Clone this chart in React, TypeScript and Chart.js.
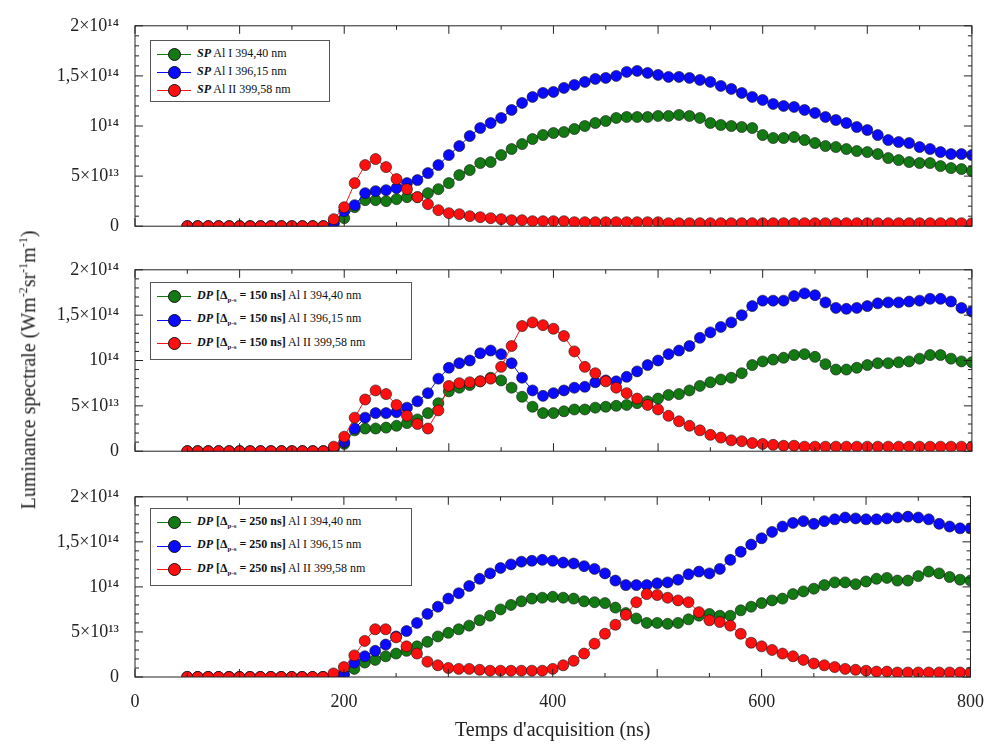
import React, { useEffect, useRef } from 'react';
import { Chart, registerables } from 'chart.js';

Chart.register(...registerables);

// acquisition times (ns)
const times = [50, 60, 70, 80, 90, 100, 110, 120, 130, 140, 150, 160, 170, 180, 190, 200, 210, 220, 230, 240, 250, 260, 270, 280, 290, 300, 310, 320, 330, 340, 350, 360, 370, 380, 390, 400, 410, 420, 430, 440, 450, 460, 470, 480, 490, 500, 510, 520, 530, 540, 550, 560, 570, 580, 590, 600, 610, 620, 630, 640, 650, 660, 670, 680, 690, 700, 710, 720, 730, 740, 750, 760, 770, 780, 790, 800];

// values in units of 1e13 W m-2 sr-1 m-1
const spGreen = [0, 0, 0, 0, 0, 0, 0, 0, 0, 0, 0, 0, 0, 0, 0.3, 0.8, 1.9, 2.6, 2.6, 2.5, 2.7, 2.9, 2.9, 3.3, 3.7, 4.3, 5.1, 5.6, 6.3, 6.4, 7.1, 7.7, 8.2, 8.7, 9.1, 9.3, 9.4, 9.7, 10.0, 10.3, 10.5, 10.8, 10.9, 10.9, 10.9, 11.0, 11.0, 11.1, 11.0, 10.8, 10.3, 10.1, 10.0, 9.9, 9.8, 9.1, 8.8, 8.8, 8.9, 8.6, 8.3, 8.0, 7.9, 7.7, 7.5, 7.4, 7.2, 6.8, 6.6, 6.4, 6.3, 6.3, 6.0, 5.8, 5.7, 5.5];
const spBlue = [0, 0, 0, 0, 0, 0, 0, 0, 0, 0, 0, 0, 0, 0, 0.3, 1.5, 2.1, 3.3, 3.5, 3.6, 3.8, 4.3, 4.6, 5.3, 6.1, 7.1, 8.0, 9.0, 9.8, 10.3, 10.8, 11.6, 12.3, 12.9, 13.3, 13.4, 13.8, 14.1, 14.4, 14.7, 14.8, 15.0, 15.4, 15.5, 15.3, 15.1, 14.9, 14.9, 14.8, 14.6, 14.4, 14.0, 13.7, 13.3, 12.9, 12.6, 12.2, 12.0, 11.9, 11.6, 11.3, 10.9, 10.6, 10.3, 9.9, 9.6, 9.1, 8.6, 8.4, 8.3, 7.9, 7.7, 7.4, 7.2, 7.2, 7.1];
const spRed = [0, 0, 0, 0, 0, 0, 0, 0, 0, 0, 0, 0, 0, 0, 0.7, 1.9, 4.3, 6.1, 6.7, 5.9, 4.7, 3.7, 2.9, 2.2, 1.6, 1.3, 1.2, 1.0, 0.9, 0.8, 0.7, 0.6, 0.6, 0.5, 0.5, 0.5, 0.5, 0.4, 0.4, 0.4, 0.4, 0.4, 0.4, 0.4, 0.4, 0.4, 0.3, 0.3, 0.3, 0.3, 0.3, 0.3, 0.3, 0.3, 0.3, 0.3, 0.3, 0.3, 0.3, 0.3, 0.3, 0.3, 0.3, 0.3, 0.3, 0.3, 0.3, 0.3, 0.3, 0.3, 0.3, 0.3, 0.3, 0.3, 0.3, 0.3];

const dp150Green = [0, 0, 0, 0, 0, 0, 0, 0, 0, 0, 0, 0, 0, 0, 0.3, 0.8, 2.3, 2.5, 2.5, 2.6, 2.8, 3.1, 3.5, 4.2, 5.3, 6.6, 7.0, 7.3, 7.7, 8.1, 7.8, 7.0, 6.0, 4.9, 4.2, 4.2, 4.4, 4.6, 4.6, 4.8, 4.9, 5.0, 5.1, 5.3, 5.5, 5.8, 6.2, 6.3, 6.7, 7.2, 7.6, 7.9, 8.1, 8.6, 9.5, 9.9, 10.1, 10.3, 10.6, 10.7, 10.4, 9.6, 9.0, 9.0, 9.2, 9.5, 9.7, 9.7, 9.8, 9.9, 10.2, 10.6, 10.6, 10.2, 9.9, 9.8];
const dp150Blue = [0, 0, 0, 0, 0, 0, 0, 0, 0, 0, 0, 0, 0, 0, 0.3, 1.0, 2.5, 3.7, 4.2, 4.2, 4.3, 4.8, 5.5, 6.4, 8.0, 9.2, 9.7, 10.0, 10.8, 11.1, 10.7, 9.7, 8.1, 6.7, 6.1, 6.4, 6.7, 7.0, 7.1, 7.6, 7.8, 7.7, 8.2, 8.8, 9.5, 10.0, 10.7, 11.1, 11.6, 12.5, 13.1, 13.7, 14.2, 15.0, 16.0, 16.6, 16.6, 16.6, 17.1, 17.4, 17.2, 16.4, 15.8, 15.7, 15.8, 16.0, 16.3, 16.4, 16.4, 16.5, 16.6, 16.8, 16.8, 16.5, 15.8, 15.4];
const dp150Red = [0, 0, 0, 0, 0, 0, 0, 0, 0, 0, 0, 0, 0, 0, 0.5, 1.6, 3.7, 5.7, 6.7, 6.3, 5.1, 3.9, 3.0, 2.5, 4.5, 7.2, 7.5, 7.6, 7.7, 8.0, 9.3, 11.6, 13.8, 14.2, 13.9, 13.5, 12.7, 11.0, 9.3, 8.6, 7.7, 7.0, 6.4, 5.8, 5.1, 4.6, 3.9, 3.3, 2.8, 2.3, 1.8, 1.5, 1.2, 1.1, 0.9, 0.8, 0.7, 0.6, 0.6, 0.5, 0.5, 0.5, 0.5, 0.5, 0.5, 0.5, 0.5, 0.5, 0.5, 0.5, 0.5, 0.5, 0.5, 0.5, 0.5, 0.5];

const dp250Green = [0, 0, 0, 0, 0, 0, 0, 0, 0, 0, 0, 0, 0, 0, 0.1, 0.3, 0.9, 1.6, 1.9, 2.3, 2.6, 2.9, 3.4, 3.9, 4.5, 4.9, 5.3, 5.7, 6.3, 6.8, 7.5, 8.0, 8.4, 8.7, 8.8, 8.9, 8.8, 8.7, 8.4, 8.3, 8.2, 7.7, 7.1, 6.5, 6.0, 6.0, 5.9, 6.0, 6.4, 6.8, 7.0, 6.8, 6.8, 7.4, 7.8, 8.2, 8.5, 8.7, 9.2, 9.5, 9.8, 10.2, 10.5, 10.5, 10.3, 10.6, 10.9, 11.0, 10.7, 10.7, 11.2, 11.7, 11.5, 11.1, 10.8, 10.7];
const dp250Blue = [0, 0, 0, 0, 0, 0, 0, 0, 0, 0, 0, 0, 0, 0, 0.1, 0.3, 1.6, 2.3, 2.9, 3.6, 4.5, 5.1, 6.0, 7.0, 7.8, 8.7, 9.3, 10.1, 10.9, 11.5, 12.1, 12.5, 12.8, 12.9, 13.0, 12.9, 12.7, 12.6, 12.3, 12.0, 11.5, 10.7, 10.2, 10.2, 10.2, 10.4, 10.5, 10.8, 11.4, 11.7, 11.5, 12.0, 13.0, 13.9, 14.7, 15.4, 16.1, 16.7, 17.1, 17.3, 17.0, 17.3, 17.5, 17.7, 17.6, 17.5, 17.5, 17.6, 17.7, 17.8, 17.7, 17.5, 17.0, 16.7, 16.5, 16.5];
const dp250Red = [0, 0, 0, 0, 0, 0, 0, 0, 0, 0, 0, 0, 0, 0, 0.4, 1.1, 2.4, 4.0, 5.3, 5.3, 4.4, 3.4, 2.6, 1.7, 1.3, 1.0, 0.9, 0.9, 0.8, 0.7, 0.7, 0.7, 0.7, 0.7, 0.7, 0.9, 1.3, 1.8, 2.6, 3.7, 4.8, 5.8, 6.9, 8.3, 9.2, 9.1, 8.8, 8.5, 8.3, 7.2, 6.3, 6.1, 5.7, 4.8, 3.8, 3.4, 3.0, 2.6, 2.3, 1.9, 1.5, 1.3, 1.1, 0.9, 0.8, 0.7, 0.6, 0.6, 0.5, 0.5, 0.5, 0.5, 0.5, 0.5, 0.5, 0.5];

const yTickLabels: Record<number, string> = {
  0: '0',
  5e13: '5×10¹³',
  1e14: '10¹⁴',
  1.5e14: '1,5×10¹⁴',
  2e14: '2×10¹⁴',
};
const xTicks = [0, 200, 400, 600, 800];

const GREEN = '#137a13';
const BLUE = '#0a0aff';
const RED = '#ff1010';
const SERIF = '"Liberation Serif", "DejaVu Serif", serif';

const frame = {
  id: 'frame',
  afterDraw(chart: any) {
    const { ctx, chartArea: a, scales } = chart;
    ctx.save();
    ctx.strokeStyle = '#222';
    ctx.lineWidth = 1;
    ctx.strokeRect(a.left, a.top, a.right - a.left, a.bottom - a.top);
    ctx.beginPath();
    for (let v = 0; v <= 800; v += 50) {
      const px = scales.x.getPixelForValue(v);
      const len = v % 100 === 0 ? 8 : 4;
      ctx.moveTo(px, a.bottom); ctx.lineTo(px, a.bottom - len);
      ctx.moveTo(px, a.top); ctx.lineTo(px, a.top + len);
    }
    for (let v = 0; v <= 2e14; v += 1e13) {
      const py = scales.y.getPixelForValue(v);
      const len = v % 5e13 === 0 ? 8 : 4;
      ctx.moveTo(a.left, py); ctx.lineTo(a.left + len, py);
      ctx.moveTo(a.right, py); ctx.lineTo(a.right - len, py);
    }
    ctx.stroke();
    ctx.restore();
  },
};

interface PanelProps {
  top: number;
  height: number;
  width: number;
  series: number[][];
  showX: boolean;
}

const Panel: React.FC<PanelProps> = ({ top, height, width, series, showX }) => {
  const ref = useRef<HTMLCanvasElement | null>(null);

  useEffect(() => {
    const ctx = ref.current?.getContext('2d');
    if (!ctx) return;
    const colors = [GREEN, BLUE, RED];
    const chart = new Chart(ctx, {
      type: 'line',
      data: {
        datasets: series.map((s, i) => ({
          data: times.map((t, j) => ({ x: t, y: s[j] * 1e13 })),
          borderColor: colors[i],
          backgroundColor: colors[i],
          borderWidth: 1,
          pointRadius: 5.5,
          pointBorderColor: '#111',
          pointBorderWidth: 0.6,
          pointBackgroundColor: colors[i],
          order: 2 - i,
        })),
      },
      options: {
        animation: false,
        responsive: false,
        layout: { padding: 0 },
        plugins: { legend: { display: false }, tooltip: { enabled: false } },
        scales: {
          x: {
            type: 'linear',
            min: 0,
            max: 800,
            display: showX,
            grid: { display: false },
            border: { display: false },
            afterBuildTicks: (s: any) => { s.ticks = xTicks.map((v) => ({ value: v })); },
            afterFit: (s: any) => { s.height = showX ? 70 : 0; },
            ticks: { color: '#222', font: { family: SERIF, size: 18 }, padding: 6 },
            title: {
              display: showX,
              text: "Temps d'acquisition (ns)",
              color: '#222',
              font: { family: SERIF, size: 20 },
              padding: { top: 6 },
            },
          },
          y: {
            min: 0,
            max: 2e14,
            grid: { display: false },
            border: { display: false },
            afterBuildTicks: (s: any) => {
              s.ticks = Object.keys(yTickLabels).map((k) => ({ value: Number(k) }));
            },
            afterFit: (s: any) => { s.width = 135; },
            ticks: {
              color: '#222',
              font: { family: SERIF, size: 18 },
              padding: 8,
              callback: (v: any) => yTickLabels[Number(v)] ?? '',
            },
          },
        },
      },
      plugins: [frame],
    });
    return () => chart.destroy();
  }, [series, showX]);

  return (
    <div style={{ position: 'absolute', left: 0, top, width, height }}>
      <canvas ref={ref} width={width} height={height} />
    </div>
  );
};

const Dot: React.FC<{ color: string }> = ({ color }) => (
  <span style={{ position: 'relative', display: 'inline-block', width: 34, height: 12, marginRight: 6, verticalAlign: 'middle' }}>
    <span style={{ position: 'absolute', left: 0, right: 0, top: 6, height: 1, background: color }} />
    <span style={{ position: 'absolute', left: 11, top: 0, width: 11, height: 11, borderRadius: '50%', background: color, border: '0.6px solid #111' }} />
  </span>
);

const Delta: React.FC<{ v: string }> = ({ v }) => (
  <b>
    [Δ<sub style={{ fontSize: 7 }}>p-s</sub> = {v} ns]
  </b>
);

const lines = ['Al I 394,40 nm', 'Al I 396,15 nm', 'Al II 399,58 nm'];

const Legend: React.FC<{ top: number; width: number; delta?: string }> = ({ top, width, delta }) => (
  <div
    style={{
      position: 'absolute', left: 150, top, width, padding: '3px 6px',
      border: '1px solid #555', background: '#fff', fontFamily: SERIF, fontSize: 12, lineHeight: '18px', color: '#111',
    }}
  >
    {[GREEN, BLUE, RED].map((c, i) => (
      <div key={i} style={{ whiteSpace: 'nowrap' }}>
        <Dot color={c} />
        <b><i>{delta ? 'DP' : 'SP'}</i></b>{delta ? <> <Delta v={delta} /></> : null} {lines[i]}
      </div>
    ))}
  </div>
);

const App: React.FC = () => (
  <div style={{ position: 'absolute', left: 0, top: 0, width: 994, height: 746, background: '#fff' }}>
    <Panel top={7} height={238} width={978} series={[spGreen, spBlue, spRed]} showX={false} />
    <Panel top={251} height={219} width={978} series={[dp150Green, dp150Blue, dp150Red]} showX={false} />
    <Panel top={478} height={269} width={990} series={[dp250Green, dp250Blue, dp250Red]} showX={true} />
    <Legend top={40} width={166} />
    <Legend top={282} width={248} delta="150" />
    <Legend top={508} width={248} delta="250" />
    <div
      style={{
        position: 'absolute', left: 28, top: 370, transform: 'translate(-50%, -50%) rotate(-90deg)',
        whiteSpace: 'nowrap', fontFamily: SERIF, fontSize: 20, color: '#222',
      }}
    >
      Luminance spectrale (Wm<sup style={{ fontSize: 12 }}>-2</sup>sr<sup style={{ fontSize: 12 }}>-1</sup>m<sup style={{ fontSize: 12 }}>-1</sup>)
    </div>
  </div>
);

export default App;
